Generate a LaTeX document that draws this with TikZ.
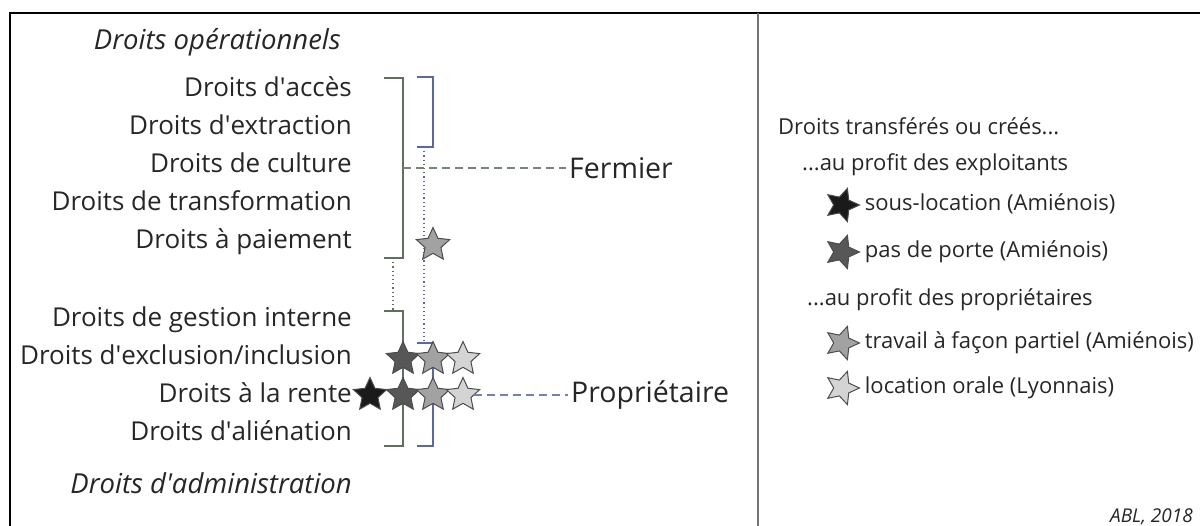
\documentclass[tikz,border=0pt]{standalone}
\usepackage{fontspec}
\setmainfont{Open Sans}
\usetikzlibrary{positioning, shapes.geometric, calc}

\definecolor{texte}{HTML}{262626}
\definecolor{vertgris}{HTML}{5F705F}
\definecolor{bleugris}{HTML}{5A69A6}
\definecolor{noir}{HTML}{1A1A1A}
\definecolor{fonce}{HTML}{575757}
\definecolor{moyen}{HTML}{A2A2A2}
\definecolor{clair}{HTML}{D4D4D4}
\newcommand{\apos}{\textquotesingle}

\begin{document}
\begin{tikzpicture}[x=1pt, y=-1pt, node distance=38pt]
    \tikzstyle{droit} = [inner sep=0pt, text height=18pt, text depth=5pt, font=\fontsize{26}{31}\selectfont, text=texte]
    \tikzstyle{titre} = [droit, font=\fontsize{27.5}{33}\selectfont\itshape]
    \tikzstyle{acteur} = [inner sep=0pt, anchor=west, font=\fontsize{28.5}{34}\selectfont, text=texte]
    \tikzstyle{legende} = [inner sep=0pt, text height=17pt, text depth=5pt, font=\fontsize{22}{27}\selectfont, text=texte]
    \tikzstyle{etoile} = [star, star points=5, star point ratio=2.1, minimum size=35pt, inner sep=0pt, draw=black!70, line width=1pt]
    \tikzstyle{fermier} = [vertgris, line width=1.6pt]
    \tikzstyle{proprio} = [bleugris, line width=1.3pt]

    \useasboundingbox (0,0) rectangle (1200,526);

    % Frame
    \draw[line width=2.5pt] (10,526) -- (10,13) -- (1200,13);
    \draw[black!55, line width=2pt] (758,13) -- (758,526);

    % Left column (operational rights)
    \node[titre, anchor=east] (operationnels) at (341,43) {Droits opérationnels};
    \node[droit, anchor=east] (acces) at (352,90) {Droits d\apos accès};
    \node[droit] (extraction) [below=38pt of acces.east, anchor=east] {Droits d\apos extraction};
    \node[droit] (culture) [below=38pt of extraction.east, anchor=east] {Droits de culture};
    \node[droit] (transformation) [below=38pt of culture.east, anchor=east] {Droits de transformation};
    \node[droit] (paiement) [below=38pt of transformation.east, anchor=east] {Droits à paiement};

    % Left column (administration rights)
    \node[droit] (gestion) [below=78pt of paiement.east, anchor=east] {Droits de gestion interne};
    \node[droit] (exclusion) [below=38pt of gestion.east, anchor=east] {Droits d\apos exclusion/inclusion};
    \node[droit] (rente) [below=38pt of exclusion.east, anchor=east] {Droits à la rente};
    \node[droit] (alienation) [below=38pt of rente.east, anchor=east] {Droits d\apos aliénation};
    \node[titre, anchor=east] (administration) at (352,487) {Droits d\apos administration};

    % Holders
    \node[acteur] (fermier) at (569,168) {Fermier};
    \node[acteur] (proprietaire) at (571,395) {Propriétaire};

    % Brackets
    \coordinate (g1top) at (403,78);
    \coordinate (g1bot) at (403,258);
    \coordinate (g2top) at (403,311);
    \coordinate (g2bot) at (403,446);
    \coordinate (b1top) at (433,77);
    \coordinate (b1bot) at (433,147);
    \coordinate (b2top) at (433,343);
    \coordinate (b2bot) at (433,446);
    \draw[fermier] ([xshift=-19pt]g1top) -- (g1top) -- (g1bot) -- ([xshift=-19pt]g1bot);
    \draw[fermier] ([xshift=-19pt]g2top) -- (g2top) -- (g2bot) -- ([xshift=-19pt]g2bot);
    \draw[proprio] ([xshift=-16pt]b1top) -- (b1top) -- (b1bot) -- ([xshift=-16pt]b1bot);
    \draw[proprio] ([xshift=-16pt]b2top) -- (b2top) -- (b2bot) -- ([xshift=-16pt]b2bot);

    % Dotted links between brackets
    \draw[vertgris, line width=1.2pt, dash pattern=on 1.2pt off 3pt] ([xshift=-10pt]g1bot) -- ([xshift=-10pt]g2top);
    \draw[bleugris, line width=1.2pt, dash pattern=on 1.2pt off 3pt] ([xshift=-9pt]b1bot) -- ([xshift=-9pt]b2top);

    % Stars
    \node[etoile, fill=moyen] (paie) at (433,245) {};
    \node[etoile, fill=fonce] (exc1) at (403,359) {};
    \node[etoile, fill=moyen] (exc2) at (433,359) {};
    \node[etoile, fill=clair] (exc3) at (463,359) {};
    \node[etoile, fill=noir] (ren0) at (370,395) {};
    \node[etoile, fill=fonce] (ren1) at (403,395) {};
    \node[etoile, fill=moyen] (ren2) at (433,395) {};
    \node[etoile, fill=clair] (ren3) at (463,395) {};

    % Dashed links to holders
    \coordinate (g1mid) at ($(g1top)!0.5!(g1bot)$);
    \draw[vertgris!85, line width=1.5pt, dash pattern=on 8pt off 5pt, shorten >=3pt] (g1mid) -- (fermier.west);
    \draw[bleugris!85, line width=1.5pt, dash pattern=on 8pt off 5pt, shorten >=3pt] (ren3.east) -- (proprietaire.west);

    % Legend
    \node[legende, anchor=west] (transferes) at (778,129) {Droits transférés ou créés...};
    \node[legende, anchor=west] (exploitants) at (802,165) {...au profit des exploitants};
    \node[etoile, fill=noir, shape border rotate=-90] (lsous) at (842,205) {};
    \node[legende] (sous) [right=4pt of lsous.east, anchor=west] {sous-location (Amiénois)};
    \node[etoile, fill=fonce, shape border rotate=-90] (lporte) at (842,252) {};
    \node[legende] (porte) [right=4pt of lporte.east, anchor=west] {pas de porte (Amiénois)};
    \node[legende, anchor=west] (proprietaires) at (807,300) {...au profit des propriétaires};
    \node[etoile, fill=moyen, shape border rotate=-90] (lfacon) at (842,343) {};
    \node[legende] (facon) [right=4pt of lfacon.east, anchor=west] {travail à façon partiel (Amiénois)};
    \node[etoile, fill=clair, shape border rotate=-90] (lorale) at (842,388) {};
    \node[legende] (orale) [right=4pt of lorale.east, anchor=west] {location orale (Lyonnais)};

    % Source
    \node[inner sep=0pt, anchor=east, font=\fontsize{19}{23}\selectfont\itshape, text=texte] (source) at (1193,517) {ABL, 2018};
\end{tikzpicture}
\end{document}
